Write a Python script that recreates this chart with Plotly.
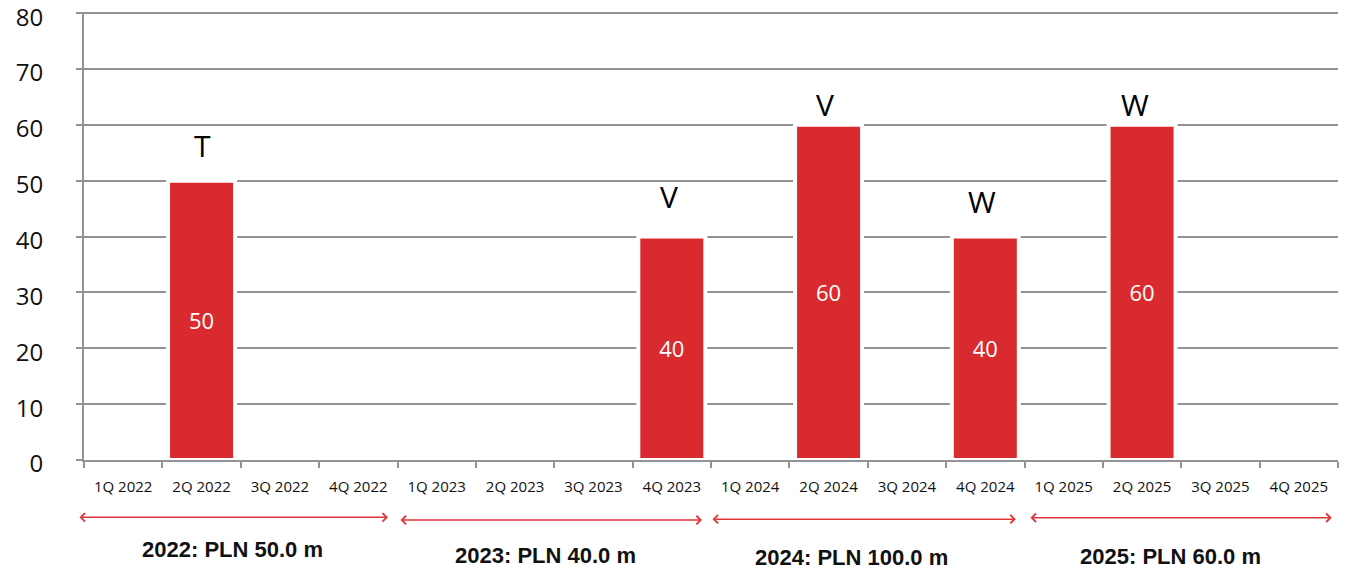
import plotly.graph_objects as go

quarters = ["1Q 2022", "2Q 2022", "3Q 2022", "4Q 2022",
            "1Q 2023", "2Q 2023", "3Q 2023", "4Q 2023",
            "1Q 2024", "2Q 2024", "3Q 2024", "4Q 2024",
            "1Q 2025", "2Q 2025", "3Q 2025", "4Q 2025"]
values = [None, 50, None, None,
          None, None, None, 40,
          None, 60, None, 40,
          None, 60, None, None]
letters = ["", "T", "", "", "", "", "", "V", "", "V", "", "W", "", "W", "", ""]
year_labels = ["2022: PLN 50.0 m", "2023: PLN 40.0 m", "2024: PLN 100.0 m", "2025: PLN 60.0 m"]
y_ticks = [0, 10, 20, 30, 40, 50, 60, 70, 80]

RED = "#d92b2f"
GRID = "#939393"
FONT = "Open Sans"

fig = go.Figure()
fig.add_trace(go.Bar(
    x=quarters, y=values,
    marker=dict(color=RED, line=dict(color="white", width=4)),
    text=[("" if v is None else str(v)) for v in values],
    textposition="inside", insidetextanchor="middle", textangle=0,
    textfont=dict(color="white", size=22, family=FONT),
    hoverinfo="skip",
))

annotations = []
# letters above bars: (pixel gap between bar top and letter baseline, x shift)
offsets = {1: (21.5, 1), 7: (26.5, -2.5), 9: (6.5, -4), 11: (21.5, -3), 13: (6.5, -7)}
for i, (q, v, L) in enumerate(zip(quarters, values, letters)):
    if L and v is not None:
        gap, dx = offsets.get(i, (20, 0))
        annotations.append(dict(
            x=q, y=v, xref="x", yref="y", text=L, showarrow=False,
            yanchor="bottom", yshift=gap - 9, xshift=dx,
            font=dict(size=30, color="black", family=FONT),
        ))

# period arrows (in category-index units) and labels
arrow_spans = [(-0.577, 3.379, -0.128), (3.519, 7.385, -0.134),
               (7.50, 11.39, -0.132), (11.557, 15.42, -0.129)]
label_pos = [(1.395, -0.200), (5.39, -0.213), (9.295, -0.217), (13.367, -0.215)]
for (x0, x1, yy), (lx, ly), txt in zip(arrow_spans, label_pos, year_labels):
    annotations.append(dict(
        x=x1, y=yy, xref="x", yref="paper",
        ax=x0, ay=0, axref="x", ayref="pixel",
        text="", showarrow=True, arrowside="end+start",
        arrowhead=4, startarrowhead=4, arrowsize=1.1, startarrowsize=1.1,
        arrowwidth=1.5, arrowcolor="#e0363a", standoff=0, startstandoff=0,
    ))
    annotations.append(dict(
        x=lx, y=ly, xref="x", yref="paper", text="<b>%s</b>" % txt,
        showarrow=False, xanchor="center", yanchor="middle",
        font=dict(size=22, color="#111111", family="Liberation Sans, Arial"),
    ))

fig.update_layout(
    width=1345, height=570,
    margin=dict(l=84, r=7, t=12, b=110, autoexpand=False),
    paper_bgcolor="white", plot_bgcolor="white",
    showlegend=False, bargap=0.145,
    annotations=annotations,
    font=dict(family=FONT),
)
fig.update_xaxes(
    type="category", categoryorder="array", categoryarray=quarters,
    range=[-0.5, 15.5], automargin=False,
    showline=True, linecolor=GRID, linewidth=2,
    ticks="outside", tickson="boundaries", ticklen=6, tickwidth=2, tickcolor=GRID,
    showgrid=False, tickfont=dict(size=15, color="#111111", family=FONT),
    ticklabelstandoff=12, fixedrange=True,
)
fig.update_yaxes(
    range=[0, 80.2], tickvals=y_ticks, automargin=False,
    showline=True, linecolor=GRID, linewidth=2,
    ticks="outside", ticklen=6, tickwidth=2, tickcolor=GRID,
    showgrid=True, gridcolor=GRID, gridwidth=2, zeroline=False,
    tickfont=dict(size=24, color="#111111", family=FONT),
    ticklabelstandoff=28, ticklabelshift=4, ticklabeloverflow="allow",
    fixedrange=True,
)

fig.write_html("out.html")
